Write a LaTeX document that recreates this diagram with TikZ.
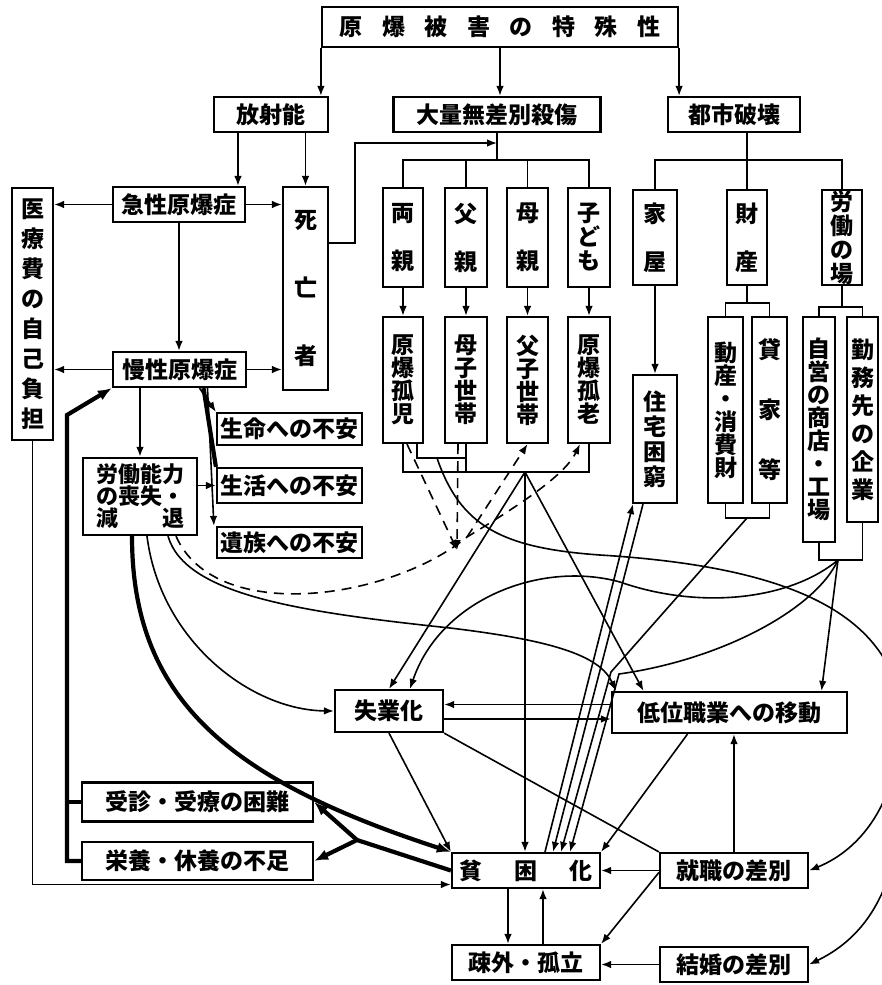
\documentclass[tikz,border=0pt]{standalone}
\usepackage{fontspec}
\newfontfamily\jpfont{Noto Sans CJK JP}
\usepackage{tikz}
\usetikzlibrary{arrows.meta}
\newcommand{\jsp}[1][0.85em]{\hspace{#1}}

\begin{document}
\begin{tikzpicture}[
    x=0.5pt, y=-0.5pt,
    every node/.style={font=\jpfont\bfseries\fontsize{11.5}{13}\selectfont},
    box/.style={draw, line width=1.1pt, inner sep=0pt, align=center},
    wh/.style 2 args={box, minimum width=#1*0.5pt, minimum height=#2*0.5pt},
    vt/.style={font=\jpfont\bfseries\fontsize{11.5}{#1}\selectfont},
    arrow/.style={-{Latex[length=5pt, width=3.8pt]}, line width=0.8pt},
    link/.style={line width=0.8pt},
    heavy/.style={line width=2.1pt},
    harrow/.style={heavy, -{Latex[length=7pt, width=5.5pt]}},
    brk/.style={arrow, dash pattern=on 5pt off 3.5pt},
]
\useasboundingbox (0,0) rectangle (882,985);
\clip (0,0) rectangle (882,985);

% === TOP ROWS ===
\node[wh={356}{40}] (top) at (500,27) {原\jsp 爆\jsp 被\jsp 害\jsp の\jsp 特\jsp 殊\jsp 性};
\node[wh={114}{35}] (rad) at (271,114.5) {放射能};
\node[wh={207}{35}] (mass) at (497,114.5) {大量無差別殺傷};
\node[wh={132}{35}] (city) at (734,114.5) {都市破壊};

% === RADIATION SIDE ===
\node[wh={41}{252}, vt=15] (cost) at (32.5,314) {医\\療\\費\\の\\自\\己\\負\\担};
\node[wh={132}{35}] (acute) at (179,204.5) {急性原爆症};
\node[wh={133}{35}] (chronic) at (179.5,369.5) {慢性原爆症};
\node[wh={45}{203}, vt=34] (dead) at (305.5,288.5) {死\\亡\\者};
\node[wh={114}{77}, vt=11, font=\jpfont\bfseries\fontsize{11}{11}\selectfont] (labor) at (140,496.5) {労働能力\\の喪失・\\減\jsp[2em]退};
\node[wh={145}{32}] (fear1) at (289.5,429) {生命への不安};
\node[wh={145}{35}] (fear2) at (289.5,485.5) {生活への不安};
\node[wh={145}{31}] (fear3) at (289.5,542.5) {遺族への不安};

% === FAMILIES ===
\node[wh={40}{99}, vt=24] (fam1) at (403,237.5) {両\\親};
\node[wh={42}{99}, vt=24] (fam2) at (466,237.5) {父\\親};
\node[wh={41}{99}, vt=24] (fam3) at (527.5,237.5) {母\\親};
\node[wh={42}{99}, vt=12] (fam4) at (589,237.5) {子\\ど\\も};
\node[wh={40}{126}, vt=11.5] (hh1) at (403,380) {原\\爆\\孤\\児};
\node[wh={42}{126}, vt=11.5] (hh2) at (466,380) {母\\子\\世\\帯};
\node[wh={41}{126}, vt=11.5] (hh3) at (527.5,380) {父\\子\\世\\帯};
\node[wh={42}{126}, vt=11.5] (hh4) at (589,380) {原\\爆\\孤\\老};

% === CITY ===
\node[wh={44}{95}, vt=24] (house) at (655,237.5) {家\\屋};
\node[wh={40}{95}, vt=24] (prop) at (747,237.5) {財\\産};
\node[wh={40}{95}, vt=12] (work) at (842,237.5) {労\\働\\の\\場};
\node[wh={44}{128}, vt=12.5] (homeless) at (655,439) {住\\宅\\困\\窮};
\node[wh={35}{186}, vt=11.5] (goods) at (725.5,410) {動\\産\\・\\消\\費\\財};
\node[wh={35}{186}, vt=30] (rent) at (769.5,410) {貸\\家\\等};
\node[wh={32}{225}, vt=11.5] (shop) at (819,429.5) {自\\営\\の\\商\\店\\・\\工\\場};
\node[wh={31}{205}, vt=14] (firm) at (862.5,419.5) {勤\\務\\先\\の\\企\\業};

% === OUTCOMES ===
\node[wh={108}{42}] (jobless) at (389,711) {失業化};
\node[wh={235}{41}] (lowjob) at (729.5,712.5) {低位職業への移動};
\node[wh={148}{35}] (poor) at (526,870.5) {貧\jsp[1.4em]困\jsp[1.4em]化};
\node[wh={148}{35}] (jobdisc) at (734,870.5) {就職の差別};
\node[wh={148}{35}] (alone) at (526,962.5) {疎外・孤立};
\node[wh={148}{35}] (marry) at (734,964.5) {結婚の差別};
\node[wh={231}{39}] (care) at (197.5,802) {受診・受療の困難};
\node[wh={231}{38}] (food) at (197.5,861) {栄養・休養の不足};

% --- junction points
\coordinate (radL) at (238,132);
\coordinate (massin) at (497,143);
\coordinate (famfork) at (497,160);
\coordinate (cityfork) at (747,160);
\coordinate (propfork) at (747,303);
\coordinate (propjoin) at (747,518);
\coordinate (workfork) at (842,307);
\coordinate (workjoin) at (838,560);
\coordinate (hhjoin) at (525,472);
\coordinate (orphjoin) at (437,458);
\coordinate (dmeet) at (457,550);
\coordinate (dstart) at (467,537);
\coordinate (loopcorner) at (67,415);
\coordinate (poorfork) at (357,840);
\coordinate (edge) at (900,700);

% === TOP ARROWS ===
\draw[arrow] (top.south west) -- (top.south west |- rad.north);
\draw[arrow] (top.south) -- (top.south |- mass.north);
\draw[arrow] (top.south east) -- (top.south east |- city.north);

\draw[arrow] (radL) -- (radL |- acute.north);
\draw[arrow] (dead.north |- rad.south) -- (dead.north);
\draw[arrow] (acute.west) -- (acute.west -| cost.east);
\draw[arrow] (acute.east) -- (acute.east -| dead.west);
\draw[arrow] (acute.south) -- (acute.south |- chronic.north);
\draw[arrow] (chronic.west) -- (chronic.west -| cost.east);
\draw[arrow] (chronic.east) -- (chronic.east -| dead.west);
\draw[arrow] ([yshift=22.75pt]dead.east) -- ++(26,0) |- (massin);

\draw[link] (mass.south) -- (famfork);
\draw[link] (fam1.north) |- (famfork) -| (fam4.north);
\draw[link] (fam2.north) -- (fam2.north |- famfork);
\draw[link] (fam3.north) -- (fam3.north |- famfork);
\foreach \i in {1,...,4}
    \draw[arrow] (fam\i.south) -- (hh\i.north);

\draw[link] (city.south -| cityfork) -- (cityfork);
\draw[link] (house.north) |- (cityfork) -| (work.north);
\draw[link] (prop.north) -- (cityfork);
\draw[arrow] (house.south) -- (homeless.north);
\draw[link] (prop.south) -- (propfork);
\draw[link] (goods.north) |- (propfork) -| (rent.north);
\draw[link] (goods.south) |- (propjoin) -| (rent.south);
\draw[link] (work.south) -- (workfork);
\draw[link] (shop.north) |- (workfork) -| (firm.north);
\draw[link] (shop.south) |- (workjoin) -| (firm.south);

% === CHRONIC / LABOR ===
\draw[arrow] ([xshift=10pt]chronic.south) -- (fear1.north west);
\draw[heavy] ([xshift=12pt]chronic.south) -- (fear2.north west);
\draw[arrow] ([xshift=14pt]chronic.south) -- ([xshift=-1pt]fear3.north west);
\draw[arrow] (fear2.west -| labor.east) -- (fear2.west);
\draw[arrow, line width=1.2pt] (labor.north |- chronic.south) -- (labor.north);

\draw[harrow] (food.west) -| (loopcorner) -- (chronic.south west);
\draw[heavy] (care.west) -- (care.west -| loopcorner);
\draw[arrow] (cost.south) |- ([yshift=-7pt]poor.west);

\draw[harrow] ([xshift=-4pt]labor.south) .. controls (132,700) and (230,780) .. (poor.north west);
\draw[arrow] ([xshift=3.5pt]labor.south) .. controls (160,640) and (250,710) .. (jobless.west);
\draw[arrow] ([xshift=14pt]labor.south) .. controls (185,595) and (300,612) .. (450,628)
    .. controls (550,640) and (600,655) .. ([xshift=2.5pt]lowjob.north west);

% === FAMILY LINKS ===
\draw[link] (hh1.south) |- (hhjoin) -| (hh4.south);
\draw[link] (hh2.south) -- (hh2.south |- hhjoin);
\draw[link] ([xshift=7pt]hh1.south) |- (orphjoin) -- (orphjoin -| hh2.south);

\draw[brk] ([xshift=2pt]hh1.south) -- (dmeet);
\draw[brk] ([xshift=-4pt]hh2.south) -- (dmeet);
\draw[brk] (dstart) -- (hh3.south);
\draw[brk] ([xshift=18pt]labor.south) .. controls (215,625) and (390,600) .. (dstart)
    .. controls (520,505) and (565,475) .. ([xshift=-4.5pt]hh4.south);

\draw[arrow] (hhjoin) -- (jobless.north);
\draw[arrow] (hhjoin) -- ([xshift=-43pt]lowjob.north);
\draw[arrow] (hhjoin) -- (hhjoin |- poor.north);

\draw[link] (orphjoin) .. controls (460,525) and (500,548) .. (600,555)
    .. controls (760,565) and (880,600) .. (edge);
\draw[arrow] (edge) .. controls (905,800) and (860,850) .. (jobdisc.east);
\draw[arrow] (edge) .. controls (915,860) and (880,930) .. (marry.east);

% === CITY LINKS ===
\draw[arrow] (workjoin) -- ([xshift=46pt]lowjob.north);
\draw[arrow] (workjoin) .. controls (790,600) and (700,610) .. (620,582)
    .. controls (540,560) and (440,600) .. ([xshift=10.5pt]jobless.north);
\draw[arrow] (workjoin) .. controls (815,610) and (720,660) .. (619,674) -- ([xshift=22pt]poor.north);
\draw[arrow] (propjoin) -- (611,672) -- ([xshift=17.5pt]poor.north);
\draw[arrow] ([xshift=9.5pt]poor.north) -- ([xshift=-11pt]homeless.south);
\draw[arrow] ([xshift=-6pt]homeless.south) -- ([xshift=13.5pt]poor.north);

% === BOTTOM ===
\draw[arrow] ([yshift=4pt]lowjob.west) -- ([yshift=4pt]lowjob.west -| jobless.east);
\draw[arrow] ([yshift=-4pt]jobless.east) -- ([yshift=-4pt]jobless.east -| lowjob.west);
\draw[arrow] (jobless.south) -- (poor.north west);
\draw[link] (jobless.south east) -- (jobdisc.north west);
\draw[arrow] ([xshift=-21pt]lowjob.south) -- (poor.north east);
\draw[arrow] (jobdisc.north) -- (jobdisc.north |- lowjob.south);
\draw[arrow] (jobdisc.west) -- (poor.east);
\draw[arrow] ([yshift=-1pt]jobdisc.west) -- (alone.north east);
\draw[arrow] (marry.west) -- (marry.west -| alone.east);
\draw[arrow] ([xshift=-9pt]poor.south) -- ([xshift=-9pt]alone.north);
\draw[arrow] ([xshift=8.5pt]alone.north) -- ([xshift=8.5pt]poor.south);

\draw[heavy] (poor.west) -- (poorfork);
\draw[harrow] (poorfork) -- (care.east);
\draw[harrow] (poorfork) -- (food.east);

\end{tikzpicture}
\end{document}
